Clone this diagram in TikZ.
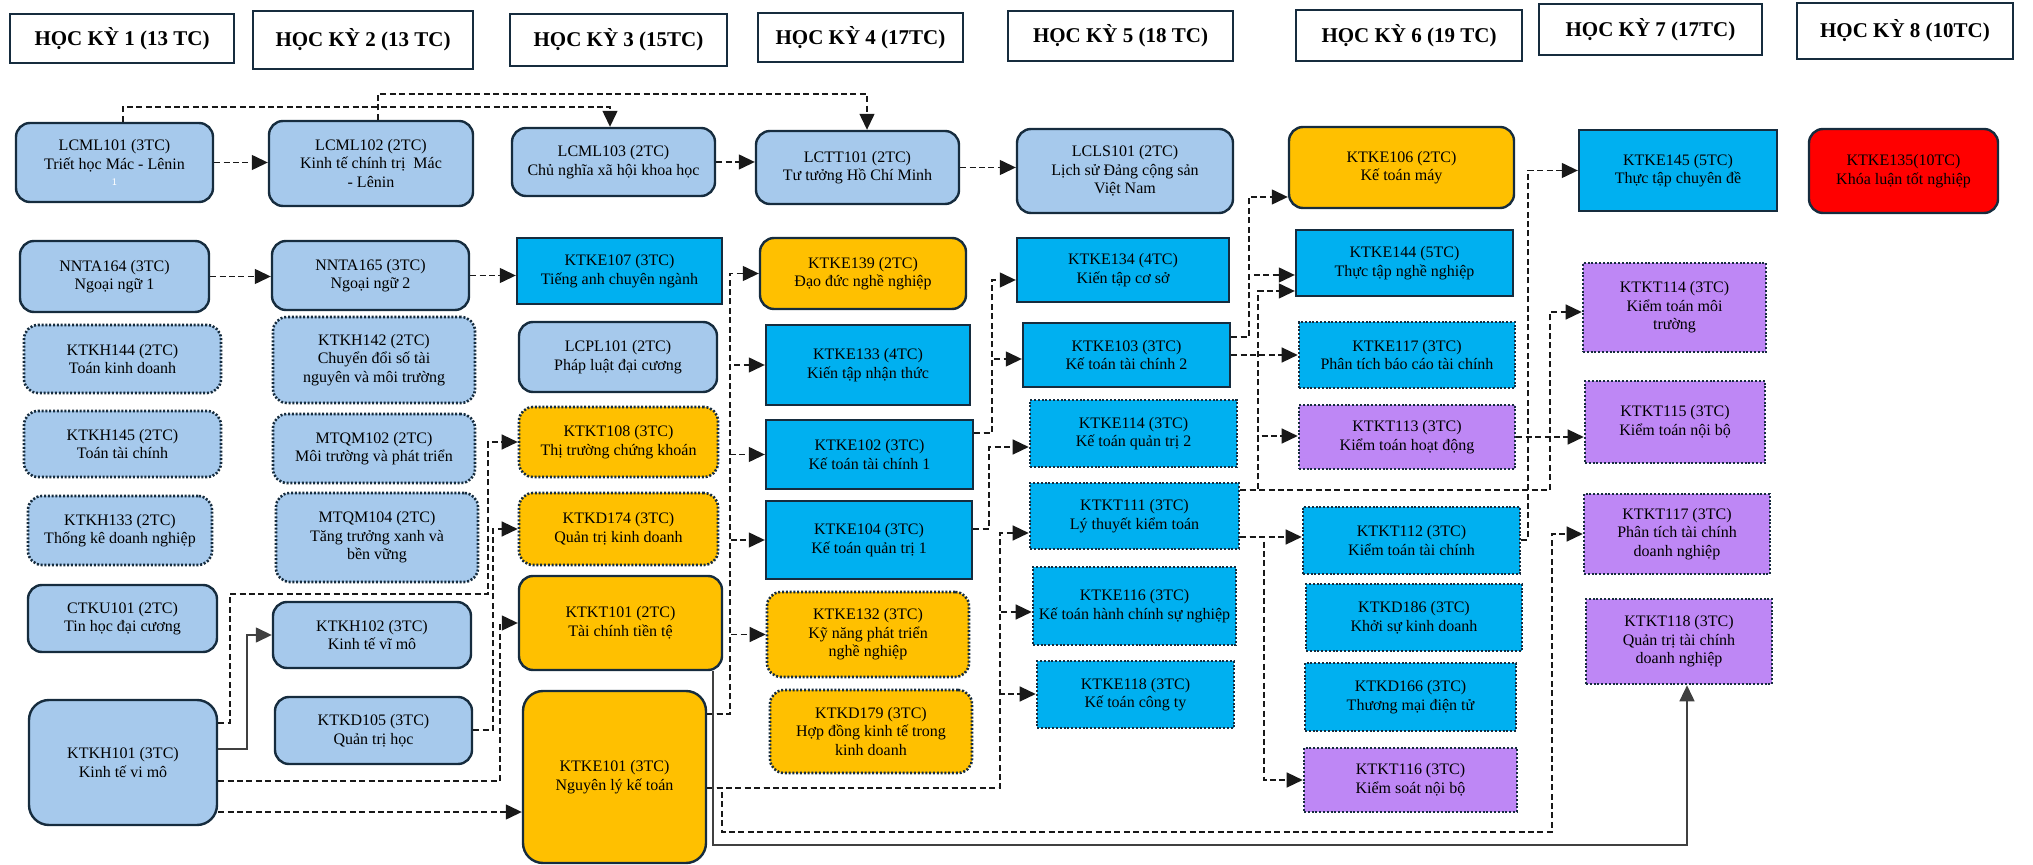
\documentclass[tikz,border=0pt]{standalone}
\usepackage{fontspec}
\setmainfont{Liberation Serif}
\usetikzlibrary{arrows.meta,calc}
\definecolor{lblue}{RGB}{166,201,236}
\definecolor{cyanb}{RGB}{0,176,240}
\definecolor{orng}{RGB}{255,192,0}
\definecolor{purp}{RGB}{190,135,245}
\definecolor{redb}{RGB}{255,0,0}
\definecolor{bord}{RGB}{22,44,62}
\tikzset{
 nbase/.style={draw=bord, align=center, inner sep=0pt, font=\fontsize{8}{9.3}\selectfont, text=black},
 solidb/.style={line width=1.2pt},
 dotb/.style={line width=1.3pt, dash pattern=on 1pt off 0.9pt},
 nLB/.style={nbase, solidb, fill=lblue, rounded corners=7pt},
 nLBd/.style={nbase, dotb, fill=lblue, rounded corners=7pt},
 nCY/.style={nbase, solidb, fill=cyanb},
 nCYd/.style={nbase, dotb, fill=cyanb},
 nOR/.style={nbase, solidb, fill=orng, rounded corners=7pt},
 nORd/.style={nbase, dotb, fill=orng, rounded corners=7pt},
 nPUd/.style={nbase, dotb, fill=purp},
 nRD/.style={nbase, solidb, fill=redb, rounded corners=7pt},
 hdr/.style={draw=bord, line width=1.3pt, fill=white, inner sep=0pt, font=\fontsize{10.5}{12}\selectfont\bfseries},
 conn/.style={draw=black!90, line width=0.65pt, dash pattern=on 3pt off 1.7pt, -{Triangle[length=8pt,width=7.5pt]}},
 sconn/.style={draw=black!75, line width=0.75pt, -{Triangle[length=8pt,width=7.5pt]}},
}
\newcommand\bx[7]{\node[#2, minimum width={(#5-#3)*0.5pt}, minimum height={(#6-#4)*0.5pt}] (#1) at ({(#3+#5)/2},{(#4+#6)/2}) {#7};}
\begin{document}
\begin{tikzpicture}[x=0.5pt,y=-0.5pt]
\useasboundingbox (0,0) rectangle (2033,865);
% headers
\bx{H1}{hdr}{10}{14}{234}{63}{HỌC KỲ 1 (13 TC)}
\bx{H2}{hdr}{253}{11}{473}{69}{HỌC KỲ 2 (13 TC)}
\bx{H3}{hdr}{510}{14}{727}{66}{HỌC KỲ 3 (15TC)}
\bx{H4}{hdr}{758}{13}{963}{62}{HỌC KỲ 4 (17TC)}
\bx{H5}{hdr}{1008}{11}{1233}{61}{HỌC KỲ 5 (18 TC)}
\bx{H6}{hdr}{1296}{10}{1522}{61}{HỌC KỲ 6 (19 TC)}
\bx{H7}{hdr}{1539}{4}{1762}{55}{HỌC KỲ 7 (17TC)}
\bx{H8}{hdr}{1797}{3}{2013}{59}{HỌC KỲ 8 (10TC)}
% column 1
\bx{LCML101}{nLB}{16}{123}{213}{202}{LCML101 (3TC)\\Triết học Mác - Lênin\\[-1pt]{\fontsize{5}{5}\selectfont\sffamily\color{white}1}}
\bx{NNTA164}{nLB}{20}{241}{209}{312}{NNTA164 (3TC)\\Ngoại ngữ 1}
\bx{KTKH144}{nLBd}{24}{325}{221}{393}{KTKH144 (2TC)\\Toán kinh doanh}
\bx{KTKH145}{nLBd}{24}{411}{221}{477}{KTKH145 (2TC)\\Toán tài chính}
\bx{KTKH133}{nLBd}{28}{496}{212}{565}{KTKH133 (2TC)\\Thống kê doanh nghiệp}
\bx{CTKU101}{nLB}{28}{585}{217}{652}{CTKU101 (2TC)\\Tin học đại cương}
\bx{KTKH101}{nLB,rounded corners=10pt}{29}{700}{217}{825}{KTKH101 (3TC)\\Kinh tế vi mô}
% column 2
\bx{LCML102}{nLB}{269}{121}{473}{206}{LCML102 (2TC)\\Kinh tế chính trị\ \ Mác\\- Lênin}
\bx{NNTA165}{nLB}{272}{241}{469}{310}{NNTA165 (3TC)\\Ngoại ngữ 2}
\bx{KTKH142}{nLBd}{273}{317}{475}{403}{KTKH142 (2TC)\\Chuyển đổi số tài\\nguyên và môi trường}
\bx{MTQM102}{nLBd}{273}{414}{475}{483}{MTQM102 (2TC)\\Môi trường và phát triển}
\bx{MTQM104}{nLBd}{276}{493}{478}{582}{MTQM104 (2TC)\\Tăng trưởng xanh và\\bền vững}
\bx{KTKH102}{nLB}{273}{602}{471}{668}{KTKH102 (3TC)\\Kinh tế vĩ mô}
\bx{KTKD105}{nLB}{275}{697}{472}{764}{KTKD105 (3TC)\\Quản trị học}
% column 3
\bx{LCML103}{nLB}{512}{128}{715}{196}{LCML103 (2TC)\\Chủ nghĩa xã hội khoa học}
\bx{KTKE107}{nCY}{517}{238}{722}{304}{KTKE107 (3TC)\\Tiếng anh chuyên ngành}
\bx{LCPL101}{nLB}{519}{322}{717}{392}{LCPL101 (2TC)\\Pháp luật đại cương}
\bx{KTKT108}{nORd}{519}{407}{718}{477}{KTKT108 (3TC)\\Thị trường chứng khoán}
\bx{KTKD174}{nORd}{519}{493}{718}{565}{KTKD174 (3TC)\\Quản trị kinh doanh}
\bx{KTKT101}{nOR}{519}{576}{722}{670}{KTKT101 (2TC)\\Tài chính tiền tệ}
\bx{KTKE101}{nOR,rounded corners=10pt}{523}{691}{706}{863}{KTKE101 (3TC)\\Nguyên lý kế toán}
% column 4
\bx{LCTT101}{nLB}{756}{131}{959}{204}{LCTT101 (2TC)\\Tư tưởng Hồ Chí Minh}
\bx{KTKE139}{nOR}{760}{238}{966}{309}{KTKE139 (2TC)\\Đạo đức nghề nghiệp}
\bx{KTKE133}{nCY}{766}{325}{970}{405}{KTKE133 (4TC)\\Kiến tập nhận thức}
\bx{KTKE102}{nCY}{766}{420}{973}{489}{KTKE102 (3TC)\\Kế toán tài chính 1}
\bx{KTKE104}{nCY}{766}{501}{972}{579}{KTKE104 (3TC)\\Kế toán quản trị 1}
\bx{KTKE132}{nORd}{767}{592}{969}{677}{KTKE132 (3TC)\\Kỹ năng phát triển\\nghề nghiệp}
\bx{KTKD179}{nORd}{770}{690}{972}{773}{KTKD179 (3TC)\\Hợp đồng kinh tế trong\\kinh doanh}
% column 5
\bx{LCLS101}{nLB}{1017}{129}{1233}{213}{LCLS101 (2TC)\\Lịch sử Đảng cộng sản\\Việt Nam}
\bx{KTKE134}{nCY}{1017}{238}{1229}{302}{KTKE134 (4TC)\\Kiến tập cơ sở}
\bx{KTKE103}{nCY}{1023}{323}{1230}{387}{KTKE103 (3TC)\\Kế toán tài chính 2}
\bx{KTKE114}{nCYd}{1030}{400}{1237}{467}{KTKE114 (3TC)\\Kế toán quản trị 2}
\bx{KTKT111}{nCYd}{1030}{483}{1239}{549}{KTKT111 (3TC)\\Lý thuyết kiểm toán}
\bx{KTKE116}{nCYd}{1033}{567}{1236}{645}{KTKE116 (3TC)\\Kế toán hành chính sự nghiệp}
\bx{KTKE118}{nCYd}{1037}{661}{1234}{728}{KTKE118 (3TC)\\Kế toán công ty}
% column 6
\bx{KTKE106}{nOR}{1289}{127}{1514}{208}{KTKE106 (2TC)\\Kế toán máy}
\bx{KTKE144}{nCY}{1296}{230}{1513}{296}{KTKE144 (5TC)\\Thực tập nghề nghiệp}
\bx{KTKE117}{nCYd}{1299}{322}{1515}{388}{KTKE117 (3TC)\\Phân tích báo cáo tài chính}
\bx{KTKT113}{nPUd}{1299}{405}{1515}{469}{KTKT113 (3TC)\\Kiểm toán hoạt động}
\bx{KTKT112}{nCYd}{1303}{507}{1520}{574}{KTKT112 (3TC)\\Kiểm toán tài chính}
\bx{KTKD186}{nCYd}{1306}{584}{1522}{651}{KTKD186 (3TC)\\Khởi sự kinh doanh}
\bx{KTKD166}{nCYd}{1305}{663}{1516}{731}{KTKD166 (3TC)\\Thương mại điện tử}
\bx{KTKT116}{nPUd}{1304}{748}{1517}{812}{KTKT116 (3TC)\\Kiểm soát nội bộ}
% column 7
\bx{KTKE145}{nCY}{1579}{130}{1777}{211}{KTKE145 (5TC)\\Thực tập chuyên đề}
\bx{KTKT114}{nPUd}{1583}{263}{1766}{352}{KTKT114 (3TC)\\Kiểm toán môi\\trường}
\bx{KTKT115}{nPUd}{1585}{381}{1765}{463}{KTKT115 (3TC)\\Kiểm toán nội bộ}
\bx{KTKT117}{nPUd}{1584}{494}{1770}{574}{KTKT117 (3TC)\\Phân tích tài chính\\doanh nghiệp}
\bx{KTKT118}{nPUd}{1586}{599}{1772}{684}{KTKT118 (3TC)\\Quản trị tài chính\\doanh nghiệp}
% column 8
\bx{KTKE135}{nRD}{1809}{129}{1998}{213}{KTKE135(10TC)\\Khóa luận tốt nghiệp}
% ---------- connectors ----------
\coordinate (p2a) at (123,107); \coordinate (p2b) at (610,107);
\draw[conn] (p2a |- LCML101.north) -- (p2a) -- (p2b) -- (p2b |- LCML103.north);
\coordinate (p3a) at (378,94); \coordinate (p3b) at (867,94);
\draw[conn] (p3a |- LCML102.north) -- (p3a) -- (p3b) -- (p3b |- LCTT101.north);
\draw[conn] (LCML101.east) -- (LCML101.east -| LCML102.west);
\draw[conn] (LCML103.east) -- (LCML103.east -| LCTT101.west);
\draw[conn] (LCTT101.east) -- (LCTT101.east -| LCLS101.west);
\draw[conn] (NNTA164.east) -- (NNTA164.east -| NNTA165.west);
\draw[conn] (NNTA165.east) -- (NNTA165.east -| KTKE107.west);
% KTKE101 bus
\coordinate (p8) at (730,714);
\foreach \t in {KTKE139,KTKE133,KTKE102,KTKE104,KTKE132}
  \draw[conn] (KTKE101.east |- p8) -- (p8) -- (p8 |- \t.west) -- (\t.west);
% KTKE102 bus
\coordinate (p9) at (992,433); \coordinate (q9a) at (992,280); \coordinate (q9b) at (992,359);
\draw[conn] (KTKE102.east |- p9) -- (p9) -- (q9a) -- (KTKE134.west |- q9a);
\draw[conn] (KTKE102.east |- p9) -- (p9) -- (q9b) -- (KTKE103.west |- q9b);
% KTKE104 -> KTKE114
\coordinate (p10) at (989,529); \coordinate (q10) at (989,447);
\draw[conn] (KTKE104.east |- p10) -- (p10) -- (q10) -- (KTKE114.west |- q10);
% KTKE101 second bus
\coordinate (p11) at (1000,788);
\coordinate (q11a) at (1000,533); \coordinate (q11b) at (1000,612); \coordinate (q11c) at (1000,694);
\draw[conn] (KTKE101.east |- p11) -- (p11) -- (q11a) -- (KTKT111.west |- q11a);
\draw[conn] (KTKE101.east |- p11) -- (p11) -- (q11b) -- (KTKE116.west |- q11b);
\draw[conn] (KTKE101.east |- p11) -- (p11) -- (q11c) -- (KTKE118.west |- q11c);
% KTKE101 -> KTKT117
\coordinate (p12a) at (722,788); \coordinate (p12b) at (722,832); \coordinate (p12c) at (1552,832);
\draw[conn] (KTKE101.east |- p12a) -- (p12a) -- (p12b) -- (p12c) -- (p12c |- KTKT117.west) -- (KTKT117.west);
% KTKE103 bus
\coordinate (p13) at (1249,337); \coordinate (q13a) at (1249,197); \coordinate (q13b) at (1249,275);
\draw[conn] (KTKE103.east |- p13) -- (p13) -- (q13a) -- (KTKE106.west |- q13a);
\draw[conn] (KTKE103.east |- p13) -- (p13) -- (q13b) -- (KTKE144.west |- q13b);
\draw[conn] (KTKE103.east) -- (KTKE103.east -| KTKE117.west);
% KTKT111 bus
\coordinate (p15) at (1258,490); \coordinate (q15a) at (1258,291); \coordinate (q15b) at (1258,436);
\coordinate (p15c) at (1550,490); \coordinate (q15c) at (1550,312);
\draw[conn] (KTKT111.east |- p15) -- (p15) -- (q15a) -- (KTKE144.west |- q15a);
\draw[conn] (KTKT111.east |- p15) -- (p15) -- (q15b) -- (KTKT113.west |- q15b);
\draw[conn] (KTKT111.east |- p15) -- (p15c) -- (q15c) -- (KTKT114.west |- q15c);
\coordinate (p16) at (1264,537);
\draw[conn] (KTKT111.east |- p16) -- (KTKT112.west |- p16);
\draw[conn] (KTKT111.east |- p16) -- (p16) -- (p16 |- KTKT116.west) -- (KTKT116.west);
\draw[conn] (KTKT113.east) -- (KTKT113.east -| KTKT115.west);
\coordinate (p18) at (1528,540);
\draw[conn] (KTKT112.east |- p18) -- (p18) -- (p18 |- KTKE145.west) -- (KTKE145.west);
% solid KTKT101 -> KTKT118
\coordinate (p19a) at (713,845); \coordinate (p19b) at (1687,845);
\draw[sconn] (p19a |- KTKT101.south) -- (p19a) -- (p19b) -- (p19b |- KTKT118.south);
% KTKH101 connectors
\coordinate (p20) at (247,749);
\draw[sconn] (KTKH101.east |- p20) -- (p20) -- (p20 |- KTKH102.west) -- (KTKH102.west);
\coordinate (p21a) at (230,723); \coordinate (p21b) at (230,594); \coordinate (p21c) at (488,594);
\draw[conn] (KTKH101.east |- p21a) -- (p21a) -- (p21b) -- (p21c) -- (p21c |- KTKT108.west) -- (KTKT108.west);
\coordinate (p22) at (493,730);
\draw[conn] (KTKD105.east |- p22) -- (p22) -- (p22 |- KTKD174.west) -- (KTKD174.west);
\coordinate (p23) at (500,781);
\draw[conn] (KTKH101.east |- p23) -- (p23) -- (p23 |- KTKT101.west) -- (KTKT101.west);
\coordinate (p24) at (400,812);
\draw[conn] (KTKH101.east |- p24) -- (KTKE101.west |- p24);
\end{tikzpicture}
\end{document}
